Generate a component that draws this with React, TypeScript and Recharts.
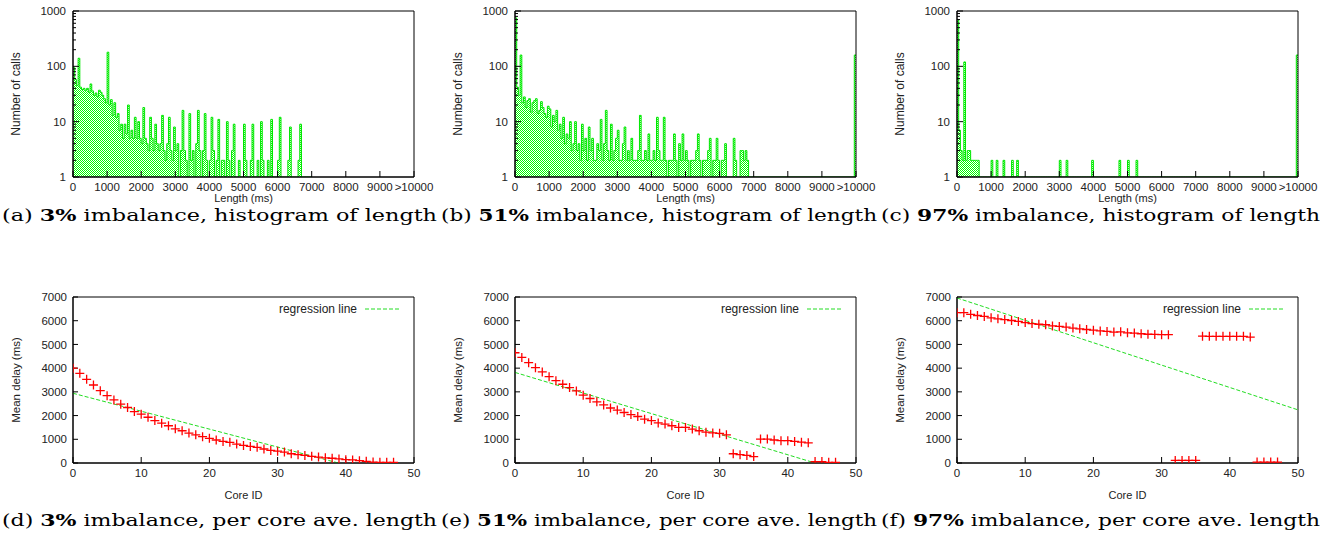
import {
  AreaChart,
  Area,
  ComposedChart,
  Scatter,
  Line,
  XAxis,
  YAxis,
  Legend,
  ReferenceArea,
} from "recharts";

const SANS = "'Liberation Sans', Arial, Helvetica, sans-serif";
const SERIF = "'DejaVu Serif', 'Liberation Serif', serif";
const INK = "#222";

// ---- histograms (top row) ----
const BIN = 50; // ms per bin, first bin starts at 0
const lengthTicks = [0, 1000, 2000, 3000, 4000, 5000, 6000, 7000, 8000, 9000, 10000];
const callTicks = [
  1, 2, 3, 4, 5, 6, 7, 8, 9, 10, 20, 30, 40, 50, 60, 70, 80, 90, 100, 200, 300, 400,
  500, 600, 700, 800, 900, 1000,
];
const callMajor = [1, 10, 100, 1000];

// calls per 50 ms bin, 0 .. 7000 ms (1 = nothing drawn on the log axis)
const callsA = [
  95, 58, 45, 140, 42, 38, 40, 37, 40, 34, 48, 36, 30, 33, 28, 37, 34, 30, 26, 22,
  180, 20, 25, 13, 22, 12, 14, 7, 9, 5, 9, 6, 20, 5, 7, 5, 12, 5, 10, 5,
  4, 18, 5, 4, 3, 12, 5, 3, 9, 4, 3, 4, 13, 3, 2, 4, 12, 3, 2, 8,
  3, 4, 1, 3, 16, 3, 2, 1, 14, 2, 3, 1, 4, 16, 3, 1, 3, 14, 2, 1,
  2, 12, 3, 1, 2, 11, 1, 2, 2, 1, 10, 2, 1, 3, 9, 1, 1, 2, 1, 1,
  9, 2, 1, 1, 2, 9, 1, 1, 2, 1, 10, 2, 1, 1, 2, 1, 11, 1, 1, 1,
  2, 12, 1, 1, 1, 1, 2, 8, 1, 1, 1, 1, 2, 9, 1, 1, 1, 1, 1, 1,
  1,
];
const callsB = [
  750, 42, 30, 160, 22, 28, 18, 24, 26, 15, 22, 24, 26, 14, 16, 23, 18, 14, 12, 19,
  17, 8, 13, 10, 16, 7, 9, 5, 12, 4, 6, 5, 10, 3, 4, 10, 3, 4, 2, 9,
  3, 5, 2, 8, 3, 5, 2, 2, 4, 3, 11, 2, 4, 16, 3, 2, 9, 2, 3, 5,
  7, 2, 2, 4, 8, 2, 3, 2, 5, 2, 2, 2, 3, 13, 2, 2, 3, 2, 6, 2,
  2, 3, 2, 12, 3, 2, 2, 12, 2, 1, 2, 2, 2, 6, 2, 1, 4, 2, 6, 2,
  3, 2, 1, 2, 2, 2, 3, 6, 2, 1, 2, 2, 2, 3, 5, 1, 2, 2, 5, 2,
  1, 2, 2, 4, 1, 1, 1, 1, 5, 2, 1, 1, 3, 3, 2, 3, 2, 1, 1, 1,
  1,
];
const callsC = [
  700, 7, 3, 2, 120, 2, 3, 3, 2, 2, 2, 2, 2, 1, 1, 1, 1, 1, 1, 1,
  2, 1, 1, 2, 1, 1, 1, 2, 1, 1, 1, 1, 2, 1, 1, 2, 1, 1, 1, 1,
  1, 1, 1, 1, 1, 1, 1, 1, 1, 1, 1, 1, 1, 1, 1, 1, 1, 1, 1, 1,
  2, 1, 1, 1, 2, 1, 1, 1, 1, 1, 1, 1, 1, 1, 1, 1, 1, 1, 1, 2,
  1, 1, 1, 1, 1, 1, 1, 1, 1, 1, 1, 1, 1, 1, 1, 2, 1, 1, 1, 1,
  2, 1, 1, 1, 1, 2, 1, 1, 1, 1, 1, 1, 1, 1, 1, 1, 1, 1, 1, 1,
  1, 1, 1, 1, 1, 1, 1, 1, 1, 1, 1, 1, 1, 1, 1, 1, 1, 1, 1, 1,
  1,
];
// calls longer than 10000 ms, drawn at the right edge
const overflowA = 0;
const overflowB = 160;
const overflowC = 160;

// ---- per core mean delay (bottom row) ----
const coreTicks = [0, 10, 20, 30, 40, 50];
const delayTicks = [0, 1000, 2000, 3000, 4000, 5000, 6000, 7000];
const coreIds = [
  0, 1, 2, 3, 4, 5, 6, 7, 8, 9, 10, 11, 12, 13, 14, 15, 16, 17, 18, 19, 20, 21, 22, 23,
  24, 25, 26, 27, 28, 29, 30, 31, 32, 33, 34, 35, 36, 37, 38, 39, 40, 41, 42, 43, 44, 45, 46, 47,
];
const delayD = [
  4000, 3780, 3530, 3290, 3050, 2840, 2660, 2480, 2340, 2170, 2060, 1930, 1790, 1680, 1570, 1440,
  1360, 1260, 1190, 1110, 1040, 970, 910, 870, 800, 740, 700, 660, 590, 530, 500, 460,
  390, 350, 320, 280, 250, 220, 200, 170, 140, 130, 100, 70, 40, 30, 30, 30,
];
const delayE = [
  4650, 4450, 4230, 4020, 3840, 3640, 3470, 3320, 3180, 3040, 2860, 2720, 2580, 2450, 2320, 2230,
  2130, 2040, 1960, 1850, 1790, 1690, 1640, 1570, 1500, 1500, 1430, 1360, 1300, 1270, 1250, 1190,
  390, 350, 320, 270, 1010, 1010, 970, 940, 940, 910, 880, 850, 60, 60, 30, 30,
];
const delayF = [
  6340, 6340, 6270, 6220, 6180, 6120, 6080, 6050, 6010, 5970, 5920, 5880, 5850, 5830, 5780, 5760,
  5730, 5690, 5660, 5630, 5600, 5570, 5550, 5520, 5530, 5490, 5480, 5450, 5430, 5420, 5410, 5410,
  110, 110, 110, 110, 5350, 5340, 5340, 5340, 5340, 5340, 5340, 5310, 40, 40, 40, 40,
];
// regression line end points (core id, delay)
const regCoreD = [0, 38.9];
const regDelayD = [2940, 0];
const regCoreE = [0, 44];
const regDelayE = [3820, 0];
const regCoreF = [0, 50];
const regDelayF = [6960, 2240];

// ---- captions ----
const captionTags = ["(a)", "(b)", "(c)", "(d)", "(e)", "(f)"];
const captionPcts = ["3%", "51%", "97%", "3%", "51%", "97%"];
const captionTails = [
  " imbalance, histogram of length",
  " imbalance, histogram of length",
  " imbalance, histogram of length",
  " imbalance, per core ave. length",
  " imbalance, per core ave. length",
  " imbalance, per core ave. length",
];

// layout: every panel has its plot box at (73, 11) inside a 440x215 chart
const W = 440;
const H = 215;
const MARGIN = { top: 11, right: 26, bottom: 0, left: 0 };
const panelLeft = [0, 442, 884];

function CallTick(props: any) {
  const { x, y, payload } = props;
  const major = callMajor.includes(payload.value);
  return (
    <g>
      <line x1={x + 7} x2={x + (major ? 13 : 10)} y1={y} y2={y} stroke="#000" />
      {major && (
        <text x={x} y={y} dy={4} textAnchor="end" fontSize={11.5} fontFamily={SANS} fill={INK}>
          {payload.value}
        </text>
      )}
    </g>
  );
}

function Histogram({ counts, overflow, id }: { counts: number[]; overflow: number; id: string }) {
  const rows = counts.map((n, i) => ({ ms: i * BIN, n }));
  if (overflow > 0) {
    rows.push({ ms: 10000 - BIN, n: overflow }, { ms: 10000, n: overflow });
  }
  return (
    <AreaChart width={W} height={H} data={rows} margin={MARGIN}>
      <defs>
        <pattern id={id} width={2} height={2} patternUnits="userSpaceOnUse">
          <rect width={2} height={2} fill="#fff" />
          <rect width={1} height={1} fill="#00ff00" />
          <rect x={1} y={1} width={1} height={1} fill="#00ff00" />
        </pattern>
      </defs>
      <XAxis
        type="number"
        dataKey="ms"
        domain={[0, 10000]}
        ticks={lengthTicks}
        interval={0}
        allowDataOverflow
        height={38}
        tickSize={-6}
        tickMargin={12}
        stroke="#000"
        tickFormatter={(v: number) => (v === 10000 ? ">10000" : String(v))}
        tick={{ fontSize: 11.5, fontFamily: SANS, fill: INK }}
        label={{ value: "Length (ms)", position: "center", dy: 2, fontSize: 11, fontFamily: SANS, fill: INK }}
      />
      <YAxis
        scale="log"
        domain={[1, 1000]}
        ticks={callTicks}
        interval={0}
        allowDataOverflow
        width={73}
        tickSize={0}
        tickMargin={7}
        tickLine={false}
        stroke="#000"
        tick={CallTick}
        label={{ value: "Number of calls", angle: -90, position: "center", dx: -20.5, fontSize: 12, fontFamily: SANS, fill: INK }}
      />
      <Area
        type="stepAfter"
        dataKey="n"
        baseValue={1}
        stroke="#00e600"
        strokeWidth={1}
        fill={`url(#${id})`}
        fillOpacity={1}
        isAnimationActive={false}
      />
      <ReferenceArea x1={0} x2={10000} y1={1} y2={1000} fill="none" stroke="#000" strokeWidth={1} />
    </AreaChart>
  );
}

function PlusMark(props: any) {
  const { cx, cy } = props;
  if (cx == null || cy == null) return null;
  return (
    <path
      d={`M${cx - 4.5},${cy}H${cx + 4.5}M${cx},${cy - 4.5}V${cy + 4.5}`}
      stroke="#ff0000"
      strokeWidth={1.3}
      fill="none"
    />
  );
}

function RegressionKey(props: any) {
  const items = (props.payload || []).filter((p: any) => p.type !== "none");
  return (
    <div style={{ display: "flex", justifyContent: "flex-end", alignItems: "center", paddingRight: 15 }}>
      {items.map((p: any) => (
        <div key={p.value} style={{ display: "flex", alignItems: "center" }}>
          <span style={{ fontFamily: SANS, fontSize: 12, color: INK, lineHeight: "14px" }}>{p.value}</span>
          <svg width={34} height={6} style={{ marginLeft: 8 }}>
            <line x1={0} x2={34} y1={3} y2={3} stroke={p.color} strokeDasharray="4 2" strokeWidth={1} />
          </svg>
        </div>
      ))}
    </div>
  );
}

function DelayPlot({
  delays,
  regCore,
  regDelay,
}: {
  delays: number[];
  regCore: number[];
  regDelay: number[];
}) {
  const points = coreIds.map((x, i) => ({ x, y: delays[i] }));
  const reg = regCore.map((x, i) => ({ x, y: regDelay[i] }));
  return (
    <ComposedChart width={W} height={H} margin={MARGIN}>
      <XAxis
        type="number"
        dataKey="x"
        domain={[0, 50]}
        ticks={coreTicks}
        interval={0}
        allowDataOverflow
        height={38}
        tickSize={-6}
        tickMargin={12}
        stroke="#000"
        tick={{ fontSize: 11.5, fontFamily: SANS, fill: INK }}
        label={{ value: "Core ID", position: "center", dy: 13, fontSize: 11, fontFamily: SANS, fill: INK }}
      />
      <YAxis
        type="number"
        dataKey="y"
        domain={[0, 7000]}
        ticks={delayTicks}
        interval={0}
        allowDataOverflow
        width={73}
        tickSize={-5}
        tickMargin={11}
        stroke="#000"
        tick={{ fontSize: 11.5, fontFamily: SANS, fill: INK }}
        label={{ value: "Mean delay (ms)", angle: -90, position: "center", dx: -20.5, fontSize: 11.5, fontFamily: SANS, fill: INK }}
      />
      <Scatter data={points} shape={PlusMark} legendType="none" isAnimationActive={false} />
      <Line
        data={reg}
        dataKey="y"
        name="regression line"
        stroke="#22dd22"
        strokeWidth={1}
        strokeDasharray="4 2"
        dot={false}
        activeDot={false}
        isAnimationActive={false}
      />
      <Legend
        layout="horizontal"
        align="center"
        verticalAlign="middle"
        content={RegressionKey}
        wrapperStyle={{ left: 73, top: 16, width: 341, height: 14, right: "auto", bottom: "auto" }}
      />
      <ReferenceArea x1={0} x2={50} y1={0} y2={7000} fill="none" stroke="#000" strokeWidth={1} />
    </ComposedChart>
  );
}

const histCounts = [callsA, callsB, callsC];
const histOverflow = [overflowA, overflowB, overflowC];
const delaySets = [delayD, delayE, delayF];
const regCores = [regCoreD, regCoreE, regCoreF];
const regDelays = [regDelayD, regDelayE, regDelayF];
const captionX = [2, 441, 881];
const captionW = [435, 436, 439];
const captionBase = [221, 526];

export default function App() {
  return (
    <div style={{ position: "absolute", left: 0, top: 0, width: 1331, height: 538, background: "#fff" }}>
      {histCounts.map((counts, i) => (
        <div key={"h" + i} style={{ position: "absolute", left: panelLeft[i], top: 0 }}>
          <Histogram counts={counts} overflow={histOverflow[i]} id={"hatch" + i} />
        </div>
      ))}
      {delaySets.map((delays, i) => (
        <div key={"d" + i} style={{ position: "absolute", left: panelLeft[i], top: 286 }}>
          <DelayPlot delays={delays} regCore={regCores[i]} regDelay={regDelays[i]} />
        </div>
      ))}
      <svg width={1331} height={538} style={{ position: "absolute", left: 0, top: 0, pointerEvents: "none" }}>
        {captionTags.map((tag, i) => (
          <text
            key={tag}
            x={captionX[i % 3]}
            y={captionBase[Math.floor(i / 3)]}
            textLength={captionW[i % 3]}
            lengthAdjust="spacingAndGlyphs"
            fontFamily={SERIF}
            fontSize={16}
            fill="#000"
          >
            {tag + " "}
            <tspan fontWeight="bold">{captionPcts[i]}</tspan>
            {captionTails[i]}
          </text>
        ))}
      </svg>
    </div>
  );
}
